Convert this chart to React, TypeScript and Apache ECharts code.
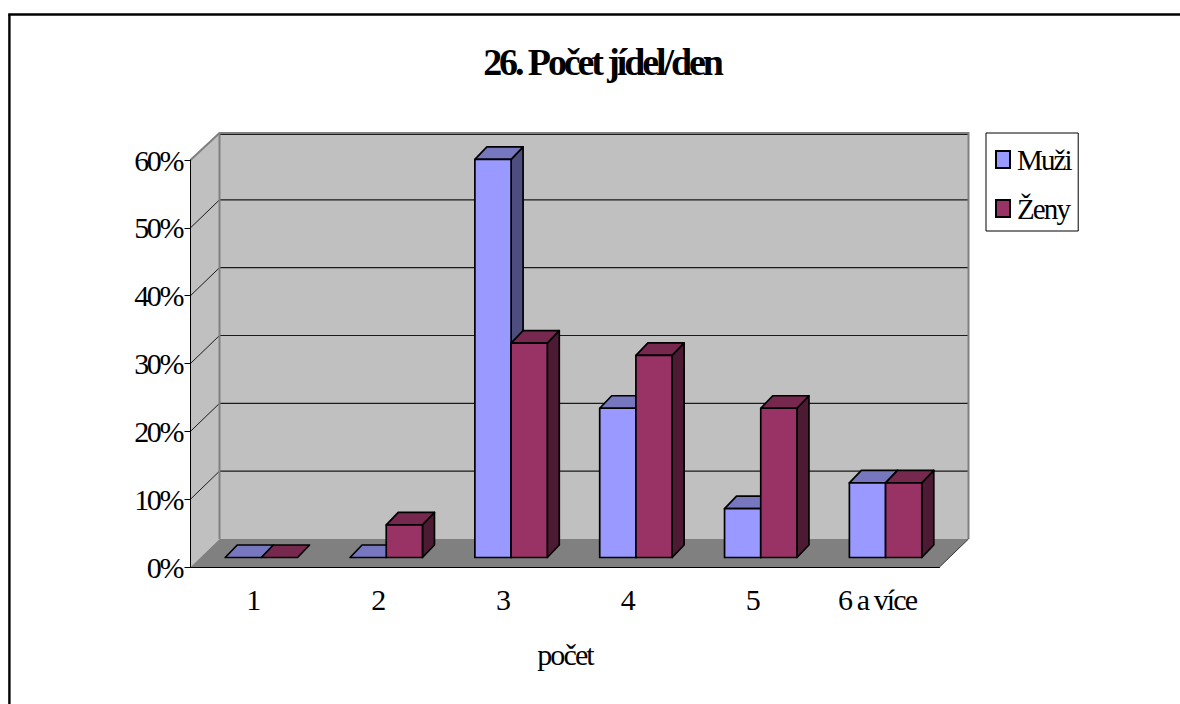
import React, { useEffect, useRef } from "react";
import * as echarts from "echarts";

const categories = ["1", "2", "3", "4", "5", "6 a více"];
const muzi = [0, 0, 58.7, 22, 7.2, 11];
const zeny = [0, 4.8, 31.6, 29.8, 22, 11];
const valueTicks = [0, 10, 20, 30, 40, 50, 60];

const FONT = '"Liberation Serif", "Times New Roman", serif';

// Oblique projection used for the pseudo-3D box
const WALL_DX = 29;
const WALL_DY = -28;
const BAR_SHIFT_X = 8.5;
const BAR_SHIFT_Y = -9.5;
const BAR_DEPTH_X = 12;
const BAR_DEPTH_Y = -12.5;
const BAR_WIDTH_RATIO = 0.29;

const renderWalls = (params: any, api: any) => {
  const cs = params.coordSys;
  const l = cs.x, r = cs.x + cs.width, t = cs.y, b = cs.y + cs.height;
  const dx = WALL_DX, dy = WALL_DY;
  return {
    type: "group",
    children: [
      { type: "polygon", shape: { points: [[l + dx, t + dy], [r + dx, t + dy], [r + dx, b + dy], [l + dx, b + dy]] }, style: { fill: "#C0C0C0", stroke: "none" } },
      { type: "polygon", shape: { points: [[l, t], [l + dx, t + dy], [l + dx, b + dy], [l, b]] }, style: { fill: "#C0C0C0", stroke: "none" } },
      { type: "polygon", shape: { points: [[l, b], [l + dx, b + dy], [r + dx, b + dy], [r, b]] }, style: { fill: "#808080", stroke: "none" } },
    ],
  };
};

const renderGridLine = (params: any, api: any) => {
  const v = api.value(0);
  const p = api.coord([0, v]);
  const cs = params.coordSys;
  const y = p[1];
  const dx = WALL_DX, dy = WALL_DY;
  const children: any[] = [];
  if (v > 0) {
    const back = y + dy + (v === 60 ? 2.5 : 0);
    children.push({
      type: "line",
      shape: { x1: cs.x + dx, y1: back, x2: cs.x + cs.width + dx, y2: back },
      style: { stroke: "#1a1a1a", lineWidth: 1.2 },
    });
  }
  if (v > 0 && v < 60) {
    children.push({
      type: "line",
      shape: { x1: cs.x, y1: y, x2: cs.x + dx, y2: y + dy },
      style: { stroke: "#1a1a1a", lineWidth: 1 },
    });
  }
  return { type: "group", children };
};

// Gray outline of the walls, on top of the grid lines
const renderWallEdges = (params: any, api: any) => {
  const cs = params.coordSys;
  const l = cs.x, r = cs.x + cs.width, t = cs.y, b = cs.y + cs.height;
  const dx = WALL_DX, dy = WALL_DY;
  const edge = { stroke: "#808080", lineWidth: 2, fill: "none" };
  return {
    type: "group",
    children: [
      { type: "polyline", shape: { points: [[l, t], [l + dx, t + dy + 1], [r + dx, t + dy + 1], [r + dx, b + dy]] }, style: edge },
      { type: "line", shape: { x1: l + dx, y1: t + dy + 1, x2: l + dx, y2: b + dy }, style: edge },
      { type: "line", shape: { x1: r, y1: b, x2: r + dx, y2: b + dy }, style: { stroke: "#333", lineWidth: 1 } },
    ],
  };
};

const barRenderer = (seriesPos: number, front: string, top: string, side: string) => (params: any, api: any) => {
  const cat = api.value(0);
  const val = api.value(1);
  const band = api.size([1, 0])[0];
  const w = band * BAR_WIDTH_RATIO;
  const c = api.coord([cat, val]);
  const z = api.coord([cat, 0]);
  const x0 = c[0] + BAR_SHIFT_X + seriesPos * w;
  const x1 = x0 + w;
  const yt = c[1] + BAR_SHIFT_Y;
  const yb = z[1] + BAR_SHIFT_Y;
  const ddx = BAR_DEPTH_X, ddy = BAR_DEPTH_Y;
  const line = { stroke: "#000", lineWidth: 1.7, lineJoin: "round" };
  const children: any[] = [];
  if (val > 0) {
    children.push({ type: "polygon", shape: { points: [[x1, yt], [x1 + ddx, yt + ddy], [x1 + ddx, yb + ddy], [x1, yb]] }, style: { fill: side, ...line } });
  }
  children.push({ type: "polygon", shape: { points: [[x0, yt], [x0 + ddx, yt + ddy], [x1 + ddx, yt + ddy], [x1, yt]] }, style: { fill: top, ...line } });
  if (val > 0) {
    children.push({ type: "polygon", shape: { points: [[x0, yt], [x1, yt], [x1, yb], [x0, yb]] }, style: { fill: front, ...line } });
  }
  return { type: "group", children };
};

export default function App() {
  const ref = useRef<HTMLDivElement>(null);

  useEffect(() => {
    const chart = echarts.init(ref.current!, undefined, { renderer: "svg" });
    chart.setOption({
      animation: false,
      backgroundColor: "#fff",
      textStyle: { fontFamily: FONT, color: "#000" },
      title: {
        text: "26. Počet jídel/den",
        left: 597,
        top: 38,
        textAlign: "center",
        textStyle: { fontFamily: FONT, fontSize: 38, fontWeight: "bold", color: "#000" },
      },
      grid: { left: 190.5, top: 160, width: 749, height: 407, containLabel: false },
      legend: {
        orient: "vertical",
        left: 986,
        top: 133,
        padding: [12, 0, 8, 9],
        itemGap: 20,
        itemWidth: 14,
        itemHeight: 17,
        backgroundColor: "#fff",
        borderColor: "#000",
        borderWidth: 1,
        data: [
          { name: "Muži", icon: "rect", itemStyle: { color: "#9999FF", borderColor: "#000", borderWidth: 2 } },
          { name: "Ženy", icon: "rect", itemStyle: { color: "#993366", borderColor: "#000", borderWidth: 2 } },
        ],
        textStyle: { fontFamily: FONT, fontSize: 29, color: "#000", padding: [0, 0, 0, 2] },
      },
      xAxis: {
        type: "category",
        data: categories,
        z: 5,
        name: "počet",
        nameLocation: "middle",
        nameGap: 72,
        nameTextStyle: { fontFamily: FONT, fontSize: 30, color: "#000" },
        axisLine: { lineStyle: { color: "#000", width: 1 } },
        axisTick: { length: 7, alignWithLabel: false, lineStyle: { color: "#000" } },
        axisLabel: { fontFamily: FONT, fontSize: 30, color: "#000", margin: 17, interval: 0 },
        splitLine: { show: false },
      },
      yAxis: {
        type: "value",
        min: 0,
        max: 60,
        interval: 10,
        z: 5,
        axisLine: { show: true, lineStyle: { color: "#000", width: 1 } },
        axisTick: { show: true, length: 6, lineStyle: { color: "#000" } },
        axisLabel: { fontFamily: FONT, fontSize: 30, color: "#000", margin: 8.5, padding: [8, 0, 0, 0], formatter: "{value}%" },
        splitLine: { show: false },
      },
      series: [
        { type: "custom", name: "walls", silent: true, clip: false, z: 1, data: [[0]], renderItem: renderWalls },
        { type: "custom", name: "grid", silent: true, clip: false, z: 2, data: valueTicks.map((v) => [v]), encode: { y: 0 }, renderItem: renderGridLine },
        { type: "custom", name: "edges", silent: true, clip: false, z: 3, data: [[0]], renderItem: renderWallEdges },
        {
          type: "custom", name: "Muži", silent: true, clip: false, z: 4,
          itemStyle: { color: "#9999FF" },
          data: muzi.map((v, i) => [i, v]),
          encode: { x: 0, y: 1 },
          renderItem: barRenderer(-1, "#9999FF", "#7777BF", "#4D4D80"),
        },
        {
          type: "custom", name: "Ženy", silent: true, clip: false, z: 4,
          itemStyle: { color: "#993366" },
          data: zeny.map((v, i) => [i, v]),
          encode: { x: 0, y: 1 },
          renderItem: barRenderer(0, "#993366", "#77284F", "#4D1A33"),
        },
      ],
      graphic: [
        { type: "line", silent: true, z: 10, shape: { x1: 8.2, y1: 14.5, x2: 1180, y2: 14.5 }, style: { stroke: "#000", lineWidth: 2.4 } },
        { type: "line", silent: true, z: 10, shape: { x1: 9.4, y1: 14.5, x2: 9.4, y2: 704 }, style: { stroke: "#000", lineWidth: 2.4 } },
      ],
    });
    return () => chart.dispose();
  }, []);

  return (
    <>
      <style>{`.chart-box{letter-spacing:-1.9px}.chart-box text[style*="bold"]{letter-spacing:-3.1px}.chart-box text[text-anchor="end"]{letter-spacing:-2.4px}`}</style>
      <div
        ref={ref}
        className="chart-box"
        style={{ position: "absolute", left: 0, top: 0, width: 1180, height: 704 }}
      />
    </>
  );
}
